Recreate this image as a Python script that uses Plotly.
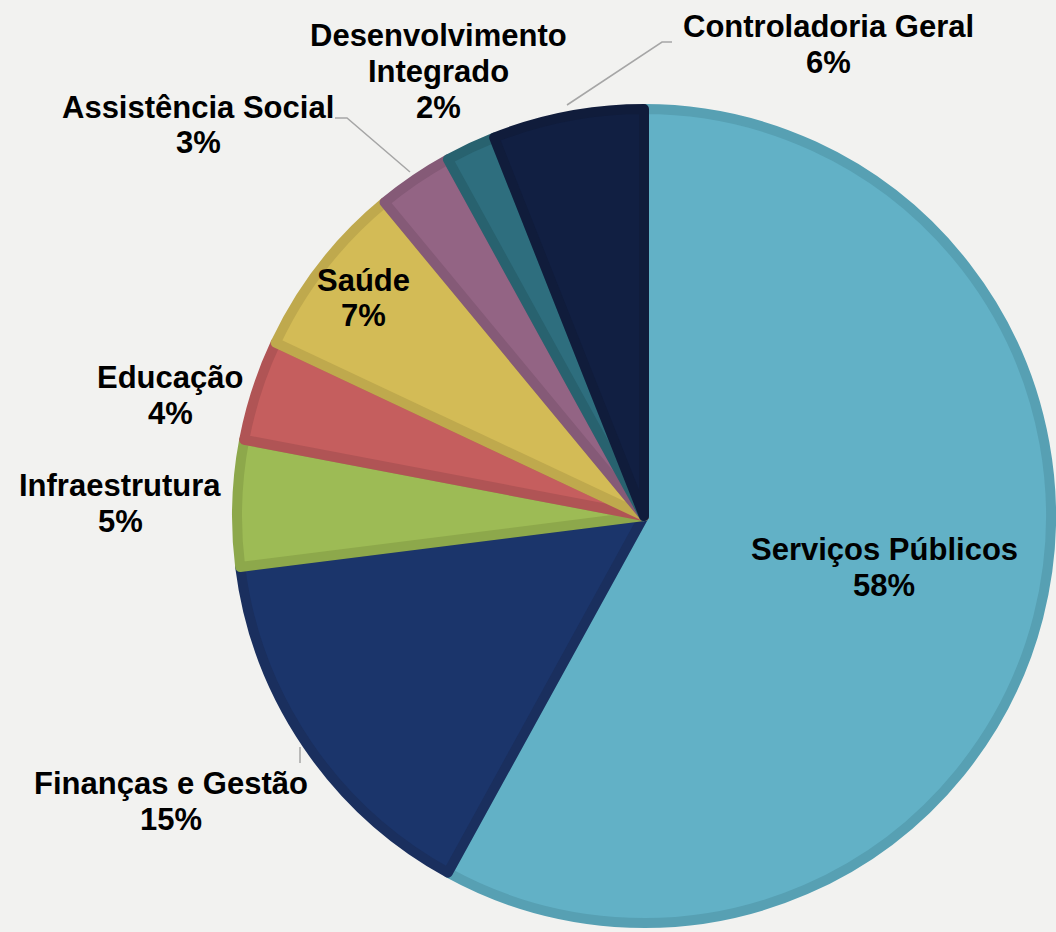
import plotly.graph_objects as go

W, H = 1056, 932

labels = ["Serviços Públicos", "Finanças e Gestão", "Infraestrutura", "Educação",
          "Saúde", "Assistência Social", "Desenvolvimento<br>Integrado", "Controladoria Geral"]
shares = [58, 15, 5, 4, 7, 3, 2, 6]
fills = ["#62B1C6", "#1B356B", "#9DBB55", "#C55E5E", "#D3BB56", "#936484", "#2E6E7E", "#111F42"]
edges = ["#57A0B3", "#1A2F5E", "#8DA84B", "#B05455", "#BFA94D", "#855A77", "#28626F", "#101C3B"]

# label block centres, in pixels from the top-left corner
label_pos = [(884, 567), (171, 801), (120, 503), (170, 395),
             (363, 298), (198, 125), (438, 71), (828, 44)]
line_gap = 36


def px(x, y):
    return x / W, 1 - y / H


cx, cy, r = 644, 516, 407

fig = go.Figure()
fig.add_trace(go.Pie(
    labels=[l.replace("<br>", " ") for l in labels], values=shares, sort=False,
    direction="clockwise", rotation=0,
    textinfo="none", hoverinfo="label+percent",
    marker=dict(colors=fills, line=dict(color=edges, width=10)),
    domain=dict(x=[(cx - r) / W, (cx + r) / W], y=[1 - (cy + r) / H, 1 - (cy - r) / H]),
    showlegend=False,
))

for lab, val, (x, y) in zip(labels, shares, label_pos):
    lines = lab.split("<br>") + [f"{val}%"]
    top = y - line_gap * (len(lines) - 1) / 2
    for i, txt in enumerate(lines):
        ax, ay = px(x, top + i * line_gap)
        fig.add_annotation(x=ax, y=ay, xref="paper", yref="paper", showarrow=False,
                           xanchor="center", yanchor="middle", borderpad=0,
                           text=f"<b>{txt}</b>", align="center",
                           font=dict(family="Liberation Sans", size=31, color="black"))

# leader lines
leaders = [[(567, 105), (662, 42), (672, 42)],
           [(410, 172), (347, 118), (335, 118)],
           [(300, 747), (300, 763)]]
for pts in leaders:
    path = "M " + " L ".join(f"{px(x, y)[0]},{px(x, y)[1]}" for x, y in pts)
    fig.add_shape(type="path", path=path, xref="paper", yref="paper",
                  line=dict(color="#A6A6A6", width=1.5))

fig.update_layout(width=W, height=H, margin=dict(t=0, b=0, l=0, r=0),
                  paper_bgcolor="#F2F2F0", plot_bgcolor="#F2F2F0")

fig.write_html("out.html", config={"displayModeBar": False},
               post_script="document.body.style.margin='0';"
                           "document.body.style.background='#F2F2F0';")
